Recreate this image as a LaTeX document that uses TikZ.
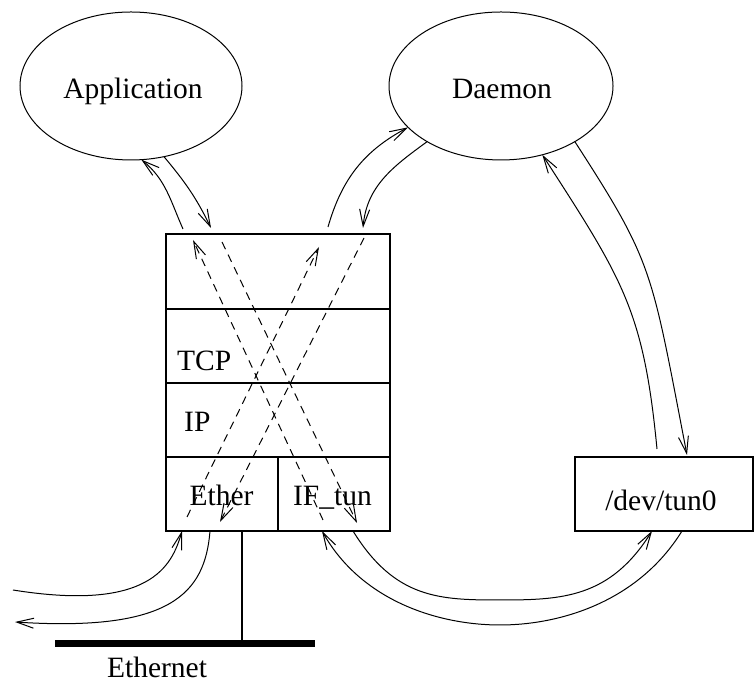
\documentclass[tikz,border=0pt]{standalone}
\usepackage{fontspec}
\setmainfont{Liberation Serif}
\usetikzlibrary{arrows.meta,shapes.geometric,calc}

\begin{document}
\begin{tikzpicture}[x=1pt,y=1pt,
  lbl/.style={font=\fontsize{29.5pt}{35pt}\selectfont, inner sep=0pt},
  proc/.style={draw, ellipse, line width=1pt, inner sep=0pt, outer sep=0pt,
               minimum width=222pt, minimum height=148pt},
  layer/.style={draw, line width=2pt, inner sep=0pt, outer sep=0pt},
  flow/.style={line width=1pt, -{Straight Barb[length=17pt,width=10pt]}},
  pass/.style={flow, dash pattern=on 8pt off 6pt},
]
\useasboundingbox (0,0) rectangle (754,684);

% user-space processes
\node[proc] (app) at (131,598) {};
\node[proc, minimum width=224pt] (daemon) at (501,598) {};
\node[lbl, anchor=base] (applbl) at (133,585) {Application};
\node[lbl, anchor=base] (daemonlbl) at (502,585) {Daemon};

% kernel protocol stack
\node[layer, minimum width=224pt, minimum height=75pt] (top) at (278,412.5) {};
\node[layer, minimum width=224pt, minimum height=74pt] (tcp) at (278,338) {};
\node[layer, minimum width=224pt, minimum height=74pt] (ip) at (278,264) {};
\node[layer, minimum width=112pt, minimum height=74pt] (ether) at (222,190) {};
\node[layer, minimum width=112pt, minimum height=74pt] (iftun) at (334,190) {};
\node[lbl, anchor=base west] (tcplbl) at (177,313) {TCP};
\node[lbl, anchor=base west] (iplbl) at (184,252) {IP};
\node[lbl, anchor=base] (etherlbl) at (221.5,178.5) {Ether};
\node[lbl, anchor=base] (iftunlbl) at (332.5,178.5) {IF\_tun};

% character device
\node[layer, minimum width=178pt, minimum height=74pt] (devtun) at (664,190) {};
\node[lbl, anchor=base] (devtunlbl) at (661,173.5) {/dev/tun0};

% ethernet wire
\node[fill, inner sep=0pt, minimum width=260pt, minimum height=7pt] (ethbar) at (185,40) {};
\node[lbl, anchor=base] (ethlbl) at (157,6) {Ethernet};
\coordinate (tap) at ([xshift=19.5pt]ether.south);
\draw[line width=2pt] (tap) -- (tap |- ethbar.center);

% free ends and turning points of the long loops
\coordinate (wireA) at (13,94);
\coordinate (wireB) at (15,62);
\coordinate (loopIn) at (500,84);
\coordinate (loopOut) at (500,59);

% application <-> stack
\draw[flow] (app.-65) to[out=-50,in=116] ([xshift=-67pt,yshift=6pt]top.north);
\draw[flow] ([xshift=-95pt,yshift=5pt]top.north) to[out=114,in=-39] (app.-82);

% daemon <-> stack
\draw[flow] ([xshift=50pt,yshift=7pt]top.north) to[out=74,in=-152] (daemon.-156);
\draw[flow] (daemon.-143) to[out=-144,in=85] ([xshift=85pt,yshift=6pt]top.north);

% daemon <-> /dev/tun0
\draw[flow] ([xshift=-7pt,yshift=8pt]devtun.north)
  .. controls (643.6,373.3) and (623.3,403.9) .. (daemon.-59);
\draw[flow] (daemon.-37)
  .. controls (654,420) and (651,415) .. ([xshift=23pt,yshift=2pt]devtun.north);

% paths through the stack
\draw[pass] ([xshift=-35pt,yshift=14pt]ether.south) -- ([xshift=41pt,yshift=-13pt]top.north);
\draw[pass] ([xshift=86pt,yshift=-4pt]top.north) -- ([xshift=-2pt,yshift=9pt]ether.south);
\draw[pass] ([xshift=-11pt,yshift=11pt]iftun.south) -- ([xshift=-85pt,yshift=-6pt]top.north);
\draw[pass] ([xshift=-56pt,yshift=-8pt]top.north) -- ([xshift=23pt,yshift=8pt]iftun.south);

% ethernet <-> Ether
\draw[flow] (wireA) .. controls (150,72) and (172,118) .. ([xshift=-40pt]ether.south);
\draw[flow] ([xshift=-12pt]ether.south) .. controls (205,90) and (170,52) .. (wireB);

% IF_tun <-> /dev/tun0
\draw[flow] ([xshift=19pt]iftun.south) .. controls (395,85) and (440,84) .. (loopIn)
  .. controls (562,84) and (610,86) .. ([xshift=-12pt]devtun.south);
\draw[flow] ([xshift=18pt]devtun.south) .. controls (638,82) and (560,59) .. (loopOut)
  .. controls (440,59) and (362,82) .. ([xshift=-12pt]iftun.south);
\end{tikzpicture}
\end{document}
